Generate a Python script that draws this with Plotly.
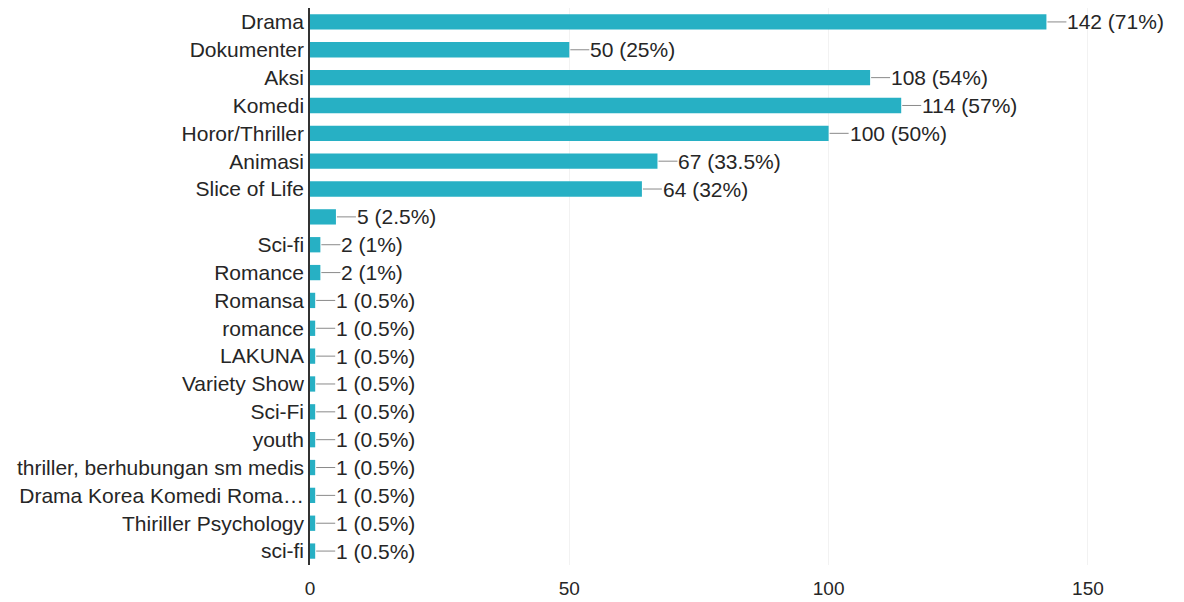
import plotly.graph_objects as go

categories = ["Drama", "Dokumenter", "Aksi", "Komedi", "Horor/Thriller", "Animasi",
              "Slice of Life", " ", "Sci-fi", "Romance", "Romansa", "romance", "LAKUNA",
              "Variety Show", "Sci-Fi", "youth", "thriller, berhubungan sm medis",
              "Drama Korea Komedi Roma…", "Thiriller Psychology", "sci-fi"]
values = [142, 50, 108, 114, 100, 67, 64, 5, 2, 2, 1, 1, 1, 1, 1, 1, 1, 1, 1, 1]
total_responses = 200
x_ticks = [0, 50, 100, 150]

labels = [f"{v} ({v / total_responses * 100:g}%)" for v in values]

BAR = "#27b0c4"
TXT = "#262626"
FONT = "Liberation Sans, Arial, sans-serif"

fig = go.Figure()
fig.add_trace(go.Bar(
    x=values, y=categories, orientation="h",
    marker=dict(color=BAR, line=dict(width=0)),
    width=0.55, hoverinfo="skip",
))

for c, v, lab in zip(categories, values, labels):
    fig.add_shape(type="line", xref="x", yref="y", xsizemode="pixel",
                  xanchor=v, x0=1, x1=20, y0=c, y1=c,
                  line=dict(color="#8a8a8a", width=1))
    fig.add_annotation(x=v, y=c, xref="x", yref="y", text=lab, showarrow=False,
                       xanchor="left", yanchor="middle", xshift=19,
                       font=dict(size=21, color=TXT, family=FONT))

# page body adds an 8px margin, so the figure is sized to fit the window
fig.update_layout(
    width=1176, height=594,
    margin=dict(l=302, r=10, t=0, b=37, autoexpand=False),
    paper_bgcolor="white", plot_bgcolor="white",
    showlegend=False,
    font=dict(family=FONT, size=21, color=TXT),
)
fig.update_xaxes(range=[0, 166.6], tickvals=x_ticks, showgrid=True,
                 gridcolor="#f2f2f2", gridwidth=1, zeroline=False,
                 showline=False, ticks="", ticklabelstandoff=10,
                 tickfont=dict(size=19, color=TXT), fixedrange=True)
fig.update_yaxes(categoryorder="array", categoryarray=categories,
                 autorange="reversed", showline=True, linecolor="#333333",
                 linewidth=1.5, ticks="", showgrid=False, ticklabelstandoff=0,
                 tickfont=dict(size=21, color=TXT), fixedrange=True)

fig.write_html("out.html")
